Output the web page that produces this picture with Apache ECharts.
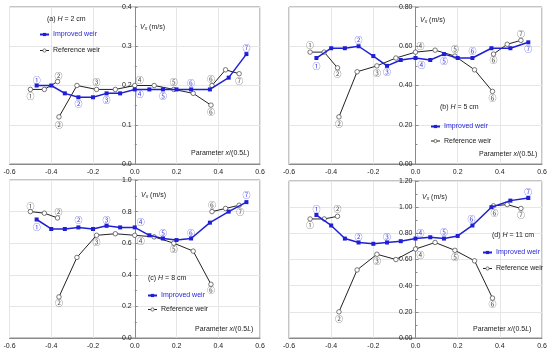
<!DOCTYPE html>
<html>
<head>
<meta charset="utf-8">
<script src="https://cdn.jsdelivr.net/npm/echarts@6/dist/echarts.min.js"></script>
<style>html,body{margin:0;padding:0;background:#fff;}#c{width:550px;height:355px;}</style>
</head>
<body>
<div id="c"></div>
<script>
// ---- data ----
const xImproved = [-0.47,-0.40,-0.335,-0.27,-0.20,-0.135,-0.07,0,0.07,0.135,0.20,0.27,0.36,0.45,0.535];
const xRef1 = [-0.50,-0.433,-0.37];
const xRef2 = [-0.363,-0.277,-0.183,-0.093,0,0.093,0.187,0.28,0.365];
const xRef3 = [0.37,0.435,0.50];
const xTicks = [-0.6,-0.4,-0.2,0.0,0.2,0.4,0.6];

const impA = [0.20,0.20,0.18,0.17,0.17,0.18,0.18,0.19,0.19,0.19,0.19,0.19,0.19,0.22,0.28];
const refA1 = [0.19,0.19,0.21];
const refA2 = [0.12,0.20,0.19,0.19,0.20,0.20,0.19,0.18,0.15];
const refA3 = [0.20,0.24,0.23];

const impB = [0.54,0.59,0.59,0.60,0.55,0.50,0.53,0.54,0.53,0.56,0.54,0.54,0.59,0.59,0.62];
const refB1 = [0.57,0.57,0.49];
const refB2 = [0.24,0.47,0.50,0.54,0.57,0.58,0.55,0.48,0.37];
const refB3 = [0.56,0.61,0.63];

const impC = [0.75,0.69,0.69,0.70,0.69,0.71,0.70,0.70,0.65,0.63,0.62,0.63,0.73,0.80,0.86];
const refC1 = [0.80,0.79,0.76];
const refC2 = [0.26,0.51,0.65,0.66,0.65,0.64,0.60,0.55,0.34];
const refC3 = [0.80,0.82,0.84];

const impD = [0.94,0.86,0.76,0.73,0.72,0.73,0.74,0.76,0.77,0.76,0.78,0.86,1.00,1.05,1.07];
const refD1 = [0.91,0.91,0.93];
const refD2 = [0.20,0.52,0.64,0.60,0.68,0.73,0.67,0.59,0.305];
const refD3 = [1.01,1.02,0.99];

const panelTitles = ['(a) {i|H} = 2 cm','(b) {i|H} = 5 cm','(c) {i|H} = 8 cm','(d) {i|H} = 11 cm'];
const circled = ['①','②','③','④','⑤','⑥','⑦'];

// label placement: [pointIndex, number, dx, dy]
const labelPlacement = [
  { imp:[[0,1,0,-6],[3,2,0,7],[5,3,0,7],[7,4,5,5],[9,5,0,7],[11,6,0,-6],[14,7,0,-6]],
    r1:[[0,1,0,7],[2,2,1,-6]], r2:[[0,2,0,8],[2,3,0,-7],[4,4,5,-6],[6,5,0,-7],[8,6,0,7]], r3:[[0,6,-1,-7],[2,7,0,7]] },
  { imp:[[0,1,0,8],[3,2,0,-6],[5,3,0,6],[7,4,6,7],[9,5,0,7],[11,6,0,-7],[14,7,0,7]],
    r1:[[0,1,0,-7],[2,2,0,6]], r2:[[0,2,0,7],[2,3,0,7],[4,4,5,-6],[6,5,0,-7],[8,6,0,7]], r3:[[0,6,0,6],[2,7,0,-6]] },
  { imp:[[0,1,0,7],[3,2,0,-7],[5,3,0,-6],[7,4,6,-5],[9,5,0,-6],[11,6,0,-6],[14,7,0,-7]],
    r1:[[0,1,0,-6],[2,2,1,-6]], r2:[[0,2,0,6],[2,3,0,7],[4,4,6,6],[6,5,0,6],[8,6,0,6]], r3:[[0,6,0,-7],[2,7,1,7]] },
  { imp:[[0,1,0,-6],[3,2,0,-6],[5,3,0,-6],[7,4,5,-6],[9,5,0,-7],[11,6,-1,-7],[14,7,0,-6]],
    r1:[[0,1,0,6],[2,2,0,-7]], r2:[[0,2,0,7],[2,3,0,7],[4,4,5,6],[6,5,0,7],[8,6,0,6]], r3:[[0,6,1,7],[2,7,0,6]] }
];

// ---- layout / style ----
const FONT = "'Liberation Sans', Arial, sans-serif";
const BLUE = '#1f1fd6';
const BLUE_LBL = '#4646e6';
const GRAY_LBL = '#555';
const panels = [
  { rect:{left:9.5, top:7, width:250.5, height:157}, yMax:0.4, yInt:0.1, dec:1, imp:impA, r:[refA1,refA2,refA3],
    title:[47,21], vx:[140,29], par:[191,155], leg:[39,31], legGap:8 },
  { rect:{left:289, top:7, width:253, height:157}, yMax:0.8, yInt:0.2, dec:2, imp:impB, r:[refB1,refB2,refB3],
    title:[440,109], vx:[420,22], par:[479,156], leg:[430,123], legGap:6.5 },
  { rect:{left:9.5, top:180, width:250.5, height:158}, yMax:1.0, yInt:0.2, dec:1, imp:impC, r:[refC1,refC2,refC3],
    title:[148,280], vx:[141,197], par:[195,331], leg:[147,292], legGap:6 },
  { rect:{left:289, top:181, width:253, height:157}, yMax:1.2, yInt:0.2, dec:2, imp:impD, r:[refD1,refD2,refD3],
    title:[492,237], vx:[422,199], par:[473,331], leg:[482,249], legGap:8 }
];

function buildData(xs, ys, labs, color) {
  const map = {};
  labs.forEach(l => { map[l[0]] = l; });
  return xs.map((x, i) => {
    const item = { value: [x, ys[i]] };
    if (map[i]) {
      const l = map[i];
      item.label = { show: true, formatter: circled[l[1]-1], position: 'inside', offset: [l[2], l[3]],
        color: color, fontSize: 8, fontFamily: "'Noto Sans CJK SC', 'DejaVu Sans', sans-serif" };
    }
    return item;
  });
}

const option = {
  backgroundColor: '#fff',
  animation: false,
  grid: [], xAxis: [], yAxis: [], series: [], legend: [], graphic: []
};

panels.forEach((p, k) => {
  option.grid.push(Object.assign({ show: true, borderColor: '#8a8a8a', borderWidth: 1, containLabel: false, outerBoundsMode: 'none' }, p.rect));
  option.xAxis.push({
    type: 'value', gridIndex: k, min: xTicks[0], max: xTicks[xTicks.length-1], interval: 0.2,
    axisLine: { show: true, onZero: false, lineStyle: { color: '#8a8a8a' } },
    axisTick: { show: false },
    axisLabel: { fontSize: 7, color: '#222', fontFamily: FONT, margin: 5, formatter: v => v.toFixed(1) },
    splitLine: { show: true, lineStyle: { color: '#e6e6e6', width: 1 } }
  });
  const xMin = xTicks[0], xMax = xTicks[xTicks.length-1];
  option.yAxis.push({
    type: 'value', gridIndex: k, min: 0, max: p.yMax, interval: p.yInt,
    position: 'left', offset: -p.rect.width * (0 - xMin) / (xMax - xMin),
    axisLine: { show: true, onZero: false, lineStyle: { color: '#8a8a8a' } },
    axisTick: { show: true, inside: true, length: 3, lineStyle: { color: '#8a8a8a' } },
    minorTick: { show: true, splitNumber: 2, length: 2, lineStyle: { color: '#8a8a8a' } },
    axisLabel: { fontSize: 7, color: '#222', fontFamily: FONT, margin: 3, formatter: v => v.toFixed(p.dec) },
    splitLine: { show: true, lineStyle: { color: '#e6e6e6', width: 1 } }
  });
  const lp = labelPlacement[k];
  const xRefs = [xRef1, xRef2, xRef3];
  const rLabs = [lp.r1, lp.r2, lp.r3];
  p.r.forEach((seg, j) => {
    option.series.push({
      name: 'Reference weir', type: 'line', xAxisIndex: k, yAxisIndex: k,
      data: buildData(xRefs[j], seg, rLabs[j], GRAY_LBL),
      symbol: 'circle', symbolSize: 4.5, showAllSymbol: true,
      lineStyle: { color: '#222', width: 1 },
      itemStyle: { color: '#fff', borderColor: '#555', borderWidth: 0.8 },
      z: 2
    });
  });
  option.series.push({
    name: 'Improved weir', type: 'line', xAxisIndex: k, yAxisIndex: k,
    data: buildData(xImproved, p.imp, lp.imp, BLUE_LBL),
    symbol: 'rect', symbolSize: 4, showAllSymbol: true,
    lineStyle: { color: BLUE, width: 1.5 },
    itemStyle: { color: BLUE },
    z: 3
  });
  option.legend.push({
    left: p.leg[0], top: p.leg[1], orient: 'vertical', itemWidth: 9, itemHeight: 4, itemGap: p.legGap + 1,
    padding: 0, selectedMode: false,
    textStyle: { fontSize: 7, fontFamily: FONT, color: '#222', padding: [0,0,0,-1] },
    data: [
      { name: 'Improved weir', textStyle: { color: BLUE }, itemStyle: { color: BLUE, borderWidth: 0 } },
      { name: 'Reference weir', itemStyle: { color: '#fff', borderColor: '#555', borderWidth: 0.8 }, lineStyle: { width: 1, color: '#222' } }
    ]
  });
  option.graphic.push({
    type: 'text', left: p.title[0], top: p.title[1] - 5, z: 10,
    style: { text: panelTitles[k], fontSize: 7, fontFamily: FONT, fill: '#222',
      rich: { i: { fontStyle: 'italic', fontSize: 7, fontFamily: FONT, fill: '#222' } } }
  });
  option.graphic.push({
    type: 'text', left: p.vx[0], top: p.vx[1] - 5, z: 10,
    style: { text: '{i|V}{s|x} (m/s)', fontSize: 7, fontFamily: FONT, fill: '#222',
      rich: { i: { fontStyle: 'italic', fontSize: 7, fontFamily: FONT, fill: '#222' },
              s: { fontStyle: 'italic', fontSize: 5, fontFamily: FONT, fill: '#222', padding: [3,0,0,0] } } }
  });
  option.graphic.push({
    type: 'text', left: p.par[0], top: p.par[1] - 5, z: 10,
    style: { text: 'Parameter {i|x}/(0.5{i|L})', fontSize: 7, fontFamily: FONT, fill: '#222',
      rich: { i: { fontStyle: 'italic', fontSize: 7, fontFamily: FONT, fill: '#222' } } }
  });
});

const chart = echarts.init(document.getElementById('c'), null, { renderer: 'canvas' });
chart.setOption(option);
</script>
</body>
</html>
